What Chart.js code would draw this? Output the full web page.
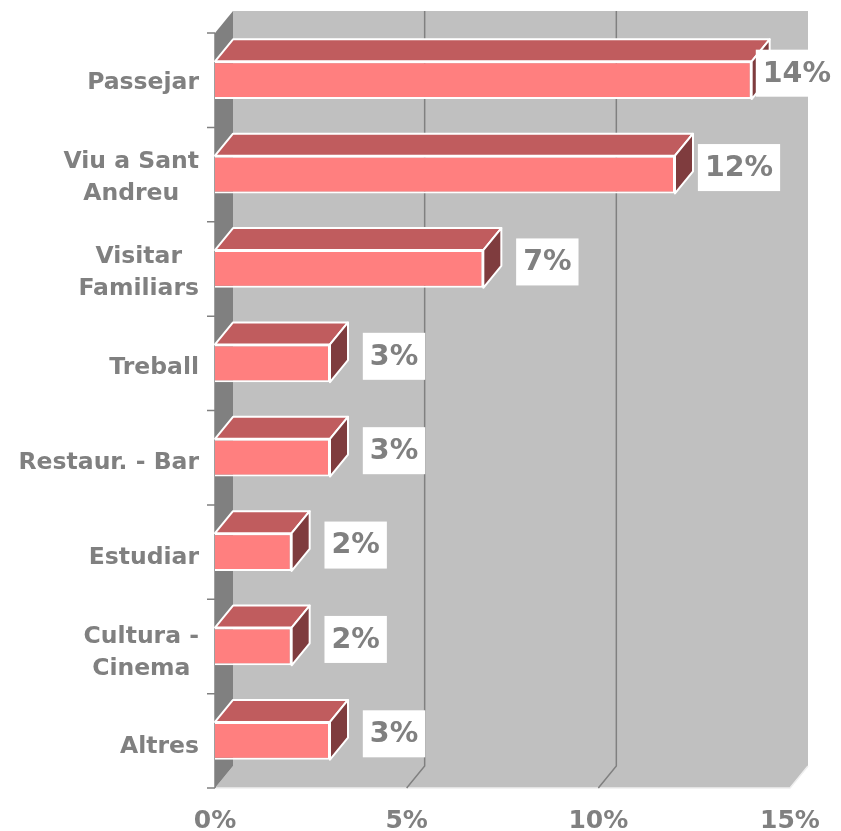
<!DOCTYPE html>
<html>
<head>
<meta charset="utf-8">
<script src="https://cdn.jsdelivr.net/npm/chart.js@4.4.0/dist/chart.umd.min.js"></script>
<style>
html, body { margin: 0; padding: 0; background: #fff; }
</style>
</head>
<body>
<canvas id="motiusChart" width="841" height="831"></canvas>
<script>
// chart values
const categories = [["Passejar"], ["Viu a Sant", "Andreu"], ["Visitar", "Familiars"], ["Treball"],
    ["Restaur. - Bar"], ["Estudiar"], ["Cultura -", "Cinema"], ["Altres"]];
const values = [14, 12, 7, 3, 3, 2, 2, 3];
const tickValues = [0, 5, 10, 15];
const tickLabels = ["0%", "5%", "10%", "15%"];

const GREY = "#808080";
const DX = 18, DY = 22; // 3d depth offset
const FONT = "'DejaVu Sans', Verdana, sans-serif";

const box3d = {
    id: "box3d",
    beforeDatasetsDraw(chart) {
        const { ctx, chartArea: a, scales: { x } } = chart;
        ctx.save();
        // back wall
        ctx.fillStyle = "#c0c0c0";
        ctx.fillRect(a.left + DX, a.top - DY, a.right - a.left, a.bottom - a.top);
        // floor
        ctx.beginPath();
        ctx.moveTo(a.left, a.bottom);
        ctx.lineTo(a.left + DX, a.bottom - DY);
        ctx.lineTo(a.right + DX, a.bottom - DY);
        ctx.lineTo(a.right, a.bottom);
        ctx.closePath();
        ctx.fill();
        ctx.strokeStyle = "#eeeeee";
        ctx.lineWidth = 1.5;
        ctx.beginPath();
        ctx.moveTo(a.left, a.bottom);
        ctx.lineTo(a.right, a.bottom);
        ctx.lineTo(a.right + DX, a.bottom - DY);
        ctx.stroke();
        // left wall
        ctx.fillStyle = GREY;
        ctx.beginPath();
        ctx.moveTo(a.left, a.top);
        ctx.lineTo(a.left + DX, a.top - DY);
        ctx.lineTo(a.left + DX, a.bottom - DY);
        ctx.lineTo(a.left, a.bottom);
        ctx.closePath();
        ctx.fill();
        // gridlines
        ctx.strokeStyle = GREY;
        ctx.lineWidth = 1.5;
        tickValues.forEach(v => {
            if (v === tickValues[0] || v === tickValues[tickValues.length - 1]) return;
            const px = x.getPixelForValue(v);
            ctx.beginPath();
            ctx.moveTo(px + DX, a.top - DY);
            ctx.lineTo(px + DX, a.bottom - DY);
            ctx.lineTo(px, a.bottom);
            ctx.stroke();
        });
        // axis line + category ticks
        ctx.beginPath();
        ctx.moveTo(a.left, a.top);
        ctx.lineTo(a.left, a.bottom);
        const step = (a.bottom - a.top) / categories.length;
        for (let i = 0; i <= categories.length; i++) {
            ctx.moveTo(a.left - 8, a.top + i * step);
            ctx.lineTo(a.left, a.top + i * step);
        }
        ctx.stroke();
        ctx.restore();
    },
    afterDatasetsDraw(chart) {
        const { ctx, chartArea: a, scales: { x, y } } = chart;
        const meta = chart.getDatasetMeta(0);
        ctx.save();
        ctx.strokeStyle = "#ffffff";
        ctx.lineWidth = 2;
        ctx.lineJoin = "round";
        meta.data.forEach((bar, i) => {
            const p = bar.getProps(["x", "y", "base", "height"], true);
            const top = p.y - p.height / 2, bot = p.y + p.height / 2;
            // top face
            ctx.fillStyle = "#c05c5e";
            ctx.beginPath();
            ctx.moveTo(p.base, top);
            ctx.lineTo(p.base + DX, top - DY);
            ctx.lineTo(p.x + DX, top - DY);
            ctx.lineTo(p.x, top);
            ctx.closePath();
            ctx.fill();
            ctx.stroke();
            // side face
            ctx.fillStyle = "#7f3c3e";
            ctx.beginPath();
            ctx.moveTo(p.x, top);
            ctx.lineTo(p.x + DX, top - DY);
            ctx.lineTo(p.x + DX, bot - DY);
            ctx.lineTo(p.x, bot);
            ctx.closePath();
            ctx.fill();
            ctx.stroke();

            // value label in a white box
            ctx.font = "bold 28.5px " + FONT;
            const txt = values[i] + "%";
            const w = ctx.measureText(txt).width + 14;
            let cx = p.x + 64;
            if (cx + w / 2 > 838) cx = 838 - w / 2;
            const cy = p.y - 7;
            ctx.fillStyle = "#ffffff";
            ctx.fillRect(cx - w / 2, cy - 23.5, w, 47);
            ctx.fillStyle = GREY;
            ctx.textAlign = "center";
            ctx.textBaseline = "middle";
            ctx.fillText(txt, cx, cy + 1);
        });

        // category labels (multi-line ones centred as a block, block right-aligned)
        ctx.font = "bold 23.5px " + FONT;
        ctx.fillStyle = GREY;
        ctx.textAlign = "center";
        ctx.textBaseline = "middle";
        categories.forEach((lines, i) => {
            const cy = y.getPixelForValue(i) + 2 + i * 0.5;
            const maxW = Math.max(...lines.map(l => ctx.measureText(l).width));
            const cx = 199 - maxW / 2;
            const lh = 32;
            lines.forEach((l, j) => {
                ctx.fillText(l, cx, cy + 1 + (j - (lines.length - 1) / 2) * lh);
            });
        });

        // x axis labels
        ctx.font = "bold 25px " + FONT;
        tickValues.forEach((v, i) => {
            ctx.fillText(tickLabels[i], x.getPixelForValue(v), a.bottom + 33);
        });
        ctx.restore();
    }
};

new Chart(document.getElementById("motiusChart"), {
    type: "bar",
    data: {
        labels: categories.map(c => c.join(" ")),
        datasets: [{
            data: values,
            backgroundColor: "#ff7f7f",
            borderColor: "#ffffff",
            borderWidth: 2,
            categoryPercentage: 1,
            barPercentage: 0.4
        }]
    },
    options: {
        indexAxis: "y",
        responsive: false,
        animation: false,
        devicePixelRatio: 1,
        layout: { padding: { left: 215, right: 51, top: 33, bottom: 43 } },
        scales: {
            x: { type: "linear", min: 0, max: 15, display: false },
            y: { display: false }
        },
        plugins: { legend: { display: false }, tooltip: { enabled: false } }
    },
    plugins: [box3d]
});
</script>
</body>
</html>
